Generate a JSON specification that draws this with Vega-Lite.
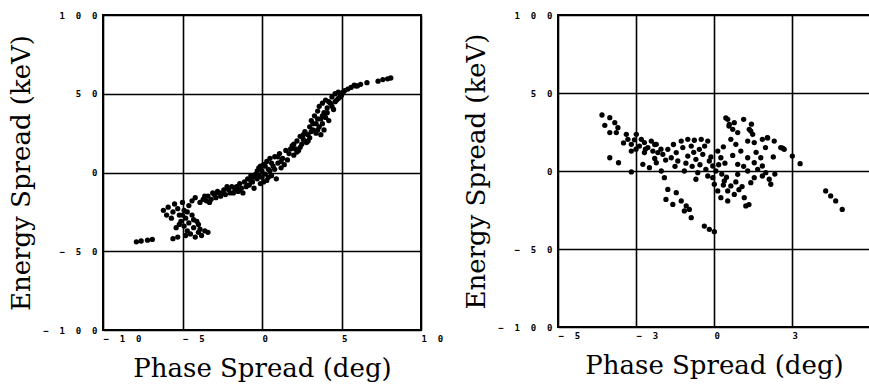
{
  "$schema": "https://vega.github.io/schema/vega-lite/v6.json",
  "background": "white",
  "padding": {"left": 7, "top": 10, "right": 0, "bottom": 0},
  "spacing": 18,
  "datasets": {
    "left": [
      {"p": -7.9, "e": -44}, {"p": -7.6, "e": -43.5}, {"p": -7.2, "e": -43}, {"p": -6.9, "e": -42.5}, {"p": -5.6, "e": -42}, {"p": -5.3, "e": -41},
      {"p": -6.2, "e": -24}, {"p": -6.0, "e": -27}, {"p": -5.9, "e": -22}, {"p": -5.7, "e": -29}, {"p": -5.6, "e": -25}, {"p": -5.5, "e": -20}, {"p": -5.3, "e": -23}, {"p": -5.2, "e": -27}, {"p": -5.1, "e": -31}, {"p": -5.0, "e": -19}, {"p": -4.9, "e": -24}, {"p": -4.9, "e": -34}, {"p": -4.8, "e": -29}, {"p": -4.7, "e": -37}, {"p": -4.6, "e": -21}, {"p": -4.6, "e": -32}, {"p": -4.5, "e": -39}, {"p": -4.4, "e": -27}, {"p": -4.3, "e": -35}, {"p": -4.2, "e": -41}, {"p": -4.1, "e": -31}, {"p": -4.0, "e": -38}, {"p": -3.9, "e": -36}, {"p": -3.8, "e": -40}, {"p": -3.6, "e": -37}, {"p": -3.4, "e": -38}, {"p": -4.8, "e": -40}, {"p": -5.4, "e": -35}, {"p": -4.4, "e": -18}, {"p": -4.2, "e": -16}, {"p": -5.0, "e": -27}, {"p": -4.7, "e": -25}, {"p": -4.3, "e": -30}, {"p": -5.2, "e": -33}, {"p": -4.0, "e": -33},
      {"p": -3.9, "e": -19}, {"p": -3.7, "e": -17}, {"p": -3.5, "e": -18}, {"p": -3.4, "e": -15}, {"p": -3.2, "e": -17}, {"p": -3.0, "e": -14}, {"p": -2.9, "e": -16}, {"p": -2.7, "e": -13}, {"p": -2.6, "e": -15}, {"p": -2.4, "e": -11}, {"p": -2.3, "e": -14}, {"p": -2.1, "e": -11}, {"p": -2.0, "e": -13}, {"p": -1.9, "e": -9}, {"p": -1.8, "e": -13}, {"p": -1.6, "e": -9}, {"p": -1.5, "e": -12}, {"p": -1.4, "e": -7}, {"p": -1.3, "e": -10}, {"p": -1.2, "e": -13}, {"p": -1.1, "e": -6}, {"p": -1.0, "e": -9}, {"p": -0.9, "e": -4}, {"p": -0.8, "e": -8}, {"p": -0.7, "e": -2}, {"p": -0.6, "e": -6}, {"p": -0.5, "e": -10}, {"p": -0.4, "e": -1}, {"p": -0.3, "e": -4}, {"p": -0.2, "e": 3}, {"p": -0.1, "e": -7}, {"p": 0.0, "e": 1}, {"p": 0.0, "e": -3}, {"p": 0.1, "e": 5}, {"p": 0.2, "e": -1}, {"p": 0.3, "e": 7}, {"p": 0.3, "e": -5}, {"p": 0.4, "e": 2}, {"p": 0.5, "e": 9}, {"p": 0.6, "e": -2}, {"p": 0.7, "e": 4}, {"p": 0.8, "e": 10}, {"p": 0.9, "e": -4}, {"p": 1.0, "e": 6}, {"p": 1.1, "e": 12}, {"p": 1.2, "e": 3}, {"p": 1.3, "e": 9}, {"p": 1.5, "e": 14}, {"p": 1.6, "e": 8}, {"p": 1.7, "e": 12}, {"p": 1.9, "e": 17}, {"p": 2.0, "e": 11}, {"p": 2.1, "e": 15}, {"p": 2.2, "e": 20}, {"p": 2.3, "e": 14}, {"p": 2.4, "e": 23}, {"p": 2.5, "e": 18}, {"p": 2.6, "e": 21}, {"p": 2.7, "e": 26}, {"p": 2.8, "e": 19}, {"p": 2.9, "e": 24}, {"p": 3.0, "e": 29}, {"p": 3.0, "e": 22}, {"p": 3.1, "e": 33}, {"p": 3.2, "e": 27}, {"p": 3.3, "e": 36}, {"p": 3.4, "e": 25}, {"p": 3.4, "e": 31}, {"p": 3.5, "e": 39}, {"p": 3.6, "e": 29}, {"p": 3.6, "e": 42}, {"p": 3.7, "e": 34}, {"p": 3.7, "e": 24}, {"p": 3.8, "e": 44}, {"p": 3.8, "e": 31}, {"p": 3.9, "e": 38}, {"p": 3.9, "e": 27}, {"p": 4.0, "e": 46}, {"p": 4.0, "e": 35}, {"p": 4.1, "e": 41}, {"p": 4.2, "e": 33}, {"p": 4.3, "e": 44}, {"p": 4.4, "e": 48}, {"p": 4.5, "e": 40}, {"p": 4.6, "e": 50}, {"p": 4.7, "e": 46}, {"p": 4.8, "e": 51}, {"p": 4.9, "e": 48}, {"p": 5.0, "e": 49}, {"p": 5.2, "e": 52}, {"p": 5.4, "e": 53}, {"p": 5.6, "e": 54}, {"p": 5.9, "e": 55}, {"p": 6.2, "e": 56}, {"p": 6.6, "e": 57}, {"p": 7.3, "e": 58}, {"p": 7.6, "e": 59}, {"p": 7.9, "e": 59.5}, {"p": 8.1, "e": 60},
      {"p": -0.5, "e": -3}, {"p": 0.2, "e": 4}, {"p": 0.6, "e": 6}, {"p": -0.2, "e": -2}, {"p": 0.4, "e": -3}, {"p": 1.4, "e": 5}, {"p": 2.4, "e": 16}, {"p": -1.7, "e": -11}, {"p": -2.8, "e": -12}, {"p": -3.3, "e": -19},
      {"p": -3.6, "e": -15}, {"p": -3.1, "e": -13}, {"p": -2.5, "e": -13}, {"p": -2.2, "e": -9}, {"p": -1.4, "e": -11}, {"p": -0.9, "e": -8}, {"p": -0.7, "e": -5}, {"p": -0.3, "e": 1}, {"p": -0.1, "e": 4}, {"p": 0.1, "e": -6}, {"p": 0.5, "e": 1}, {"p": 0.8, "e": 2}, {"p": 1.0, "e": 10}, {"p": 1.2, "e": 7}, {"p": 1.8, "e": 15}, {"p": 2.0, "e": 18}, {"p": 2.2, "e": 13}, {"p": 2.6, "e": 24}, {"p": 2.9, "e": 20}, {"p": 3.1, "e": 26}, {"p": 3.2, "e": 31}, {"p": 3.5, "e": 34}, {"p": 3.5, "e": 27}, {"p": 3.8, "e": 36}, {"p": 4.1, "e": 38}, {"p": 4.2, "e": 45}, {"p": 4.4, "e": 42}, {"p": 4.6, "e": 45}, {"p": 4.8, "e": 47}, {"p": 5.1, "e": 51}, {"p": 5.8, "e": 55.5}, {"p": 6.0, "e": 55}
    ],
    "right": [
      {"p": -3.59, "e": 35.9}, {"p": -3.34, "e": 34.2}, {"p": -3.5, "e": 29.3}, {"p": -3.18, "e": 31}, {"p": -3.08, "e": 27.8}, {"p": -3.34, "e": 24.6}, {"p": -3.13, "e": 24.6}, {"p": -2.81, "e": 23.5}, {"p": -2.76, "e": 20.3}, {"p": -2.65, "e": 17.1}, {"p": -2.65, "e": 12.8}, {"p": -3.34, "e": 8.5}, {"p": -3.06, "e": 5.3}, {"p": -2.65, "e": -0.6},
      {"p": -2.49, "e": 23.5}, {"p": -2.33, "e": 20.3}, {"p": -2.39, "e": 16}, {"p": -2.23, "e": 18.2}, {"p": -2.12, "e": 15}, {"p": -2.01, "e": 19.2}, {"p": -1.85, "e": 17.1}, {"p": -2.23, "e": 11.8}, {"p": -1.96, "e": 12.8}, {"p": -1.8, "e": 11.8}, {"p": -2.28, "e": 4.3}, {"p": -2.07, "e": 2.1}, {"p": -1.85, "e": 5.3}, {"p": -1.69, "e": 0},
      {"p": -1.59, "e": -4.3}, {"p": -1.48, "e": -11.8}, {"p": -1.21, "e": -13.9}, {"p": -1.54, "e": -18.2}, {"p": -1.32, "e": -21.4}, {"p": -1.05, "e": -19.2}, {"p": -0.89, "e": -22.4}, {"p": -0.95, "e": -25.6}, {"p": -0.73, "e": -29.9}, {"p": -0.79, "e": -24.6}, {"p": -0.31, "e": -35.3}, {"p": -0.15, "e": -37.4}, {"p": 0.01, "e": -38.9},
      {"p": -1.64, "e": 10.7}, {"p": -1.48, "e": 13.9}, {"p": -1.37, "e": 8.5}, {"p": -1.21, "e": 11.8}, {"p": -1.16, "e": 6.4}, {"p": -1.05, "e": 19.2}, {"p": -0.84, "e": 20.3}, {"p": -0.63, "e": 19.7}, {"p": -0.41, "e": 20.3}, {"p": -0.2, "e": 19.2}, {"p": -1.0, "e": 15}, {"p": -0.73, "e": 16}, {"p": -0.47, "e": 13.9}, {"p": -0.84, "e": 9.6}, {"p": -0.58, "e": 7.5}, {"p": -0.36, "e": 10.7}, {"p": -0.95, "e": 0}, {"p": -0.52, "e": -1.1}, {"p": -0.26, "e": 1.1}, {"p": -0.04, "e": 3.2}, {"p": -0.58, "e": -5.3}, {"p": -0.2, "e": -3.2}, {"p": -0.04, "e": -4.3},
      {"p": 0.12, "e": 12.8}, {"p": 0.22, "e": 8.5}, {"p": 0.06, "e": 0}, {"p": -0.15, "e": 6.4}, {"p": 0.01, "e": -8.5}, {"p": 0.12, "e": -12.8}, {"p": 0.33, "e": -6.4}, {"p": 0.44, "e": -12.8}, {"p": 0.22, "e": -17.1}, {"p": 0.54, "e": -9.6}, {"p": 0.65, "e": -15}, {"p": 0.44, "e": -19.2}, {"p": 0.97, "e": -17.1}, {"p": 1.02, "e": -22.4}, {"p": 1.12, "e": -21.5},
      {"p": 0.44, "e": 33.1}, {"p": 0.49, "e": 29.9}, {"p": 0.6, "e": 26.7}, {"p": 0.95, "e": 33.1}, {"p": 0.76, "e": 24.6}, {"p": 0.54, "e": 20.3}, {"p": 0.7, "e": 17.1}, {"p": 1.13, "e": 26.7}, {"p": 1.24, "e": 23.5}, {"p": 1.08, "e": 19.2}, {"p": 1.29, "e": 18.2}, {"p": 1.55, "e": 20.3}, {"p": 1.71, "e": 21.4}, {"p": 1.93, "e": 19.2}, {"p": 2.14, "e": 15}, {"p": 2.25, "e": 13.9},
      {"p": 0.86, "e": 12.8}, {"p": 1.08, "e": 8.5}, {"p": 0.76, "e": 4.3}, {"p": 1.29, "e": 5.3}, {"p": 1.5, "e": 8.5}, {"p": 0.76, "e": -2.1}, {"p": 1.08, "e": 0}, {"p": 1.4, "e": 1.1}, {"p": 1.55, "e": 3.2}, {"p": 1.66, "e": -1.1}, {"p": 1.29, "e": -4.3}, {"p": 1.77, "e": -5.3}, {"p": 1.82, "e": -8.5}, {"p": 1.55, "e": -3.2}, {"p": 1.18, "e": -7.5},
      {"p": 2.51, "e": 9.6}, {"p": 2.76, "e": 4.7}, {"p": 3.58, "e": -12.8}, {"p": 3.74, "e": -16}, {"p": 3.9, "e": -19.2}, {"p": 4.11, "e": -24.6},
      {"p": 0.38, "e": 34}, {"p": 0.48, "e": 28.8}, {"p": 1.18, "e": 25.6}, {"p": 1.72, "e": 21.2}, {"p": 2.2, "e": 14.7}, {"p": 0.3, "e": 15.5}, {"p": 0.35, "e": 5}, {"p": 0.6, "e": 10}, {"p": -0.7, "e": 3}, {"p": -1.3, "e": 17}, {"p": -2.5, "e": 14}, {"p": -1.9, "e": 8}, {"p": 0.9, "e": -10}, {"p": 0.25, "e": -2},
      {"p": -2.9, "e": 18}, {"p": -2.55, "e": 20}, {"p": -2.2, "e": 14}, {"p": -1.7, "e": 14}, {"p": -1.55, "e": 7}, {"p": -1.25, "e": 3}, {"p": -0.9, "e": 5}, {"p": -0.65, "e": 12}, {"p": -0.3, "e": 16}, {"p": -0.1, "e": 9}, {"p": 0.15, "e": 4}, {"p": 0.4, "e": -4}, {"p": 0.7, "e": -7}, {"p": 0.95, "e": 3}, {"p": 1.35, "e": 12}, {"p": 1.65, "e": 15}, {"p": 1.9, "e": 9}, {"p": 1.95, "e": -2}, {"p": 0.8, "e": -12}, {"p": 0.3, "e": -9}, {"p": -0.45, "e": 4}, {"p": -1.9, "e": 17}, {"p": 0.65, "e": 31}, {"p": 1.2, "e": 30}
    ]
  },
  "hconcat": [
    {
      "data": {"name": "left"},
      "width": 318,
      "height": 315,
      "mark": {"type": "point", "filled": true, "shape": "circle", "size": 28, "color": "black", "opacity": 1},
      "encoding": {
        "x": {"field": "p", "type": "quantitative", "scale": {"domain": [-10, 10], "nice": false},
          "axis": {"values": [-10, -5, 0, 5, 10], "title": "Phase Spread (deg)", "labelExpr": "join(split(datum.label, ''), '\u00a0\u00a0')"}},
        "y": {"field": "e", "type": "quantitative", "scale": {"domain": [-100, 100], "nice": false},
          "axis": {"values": [-100, -50, 0, 50, 100], "title": "Energy Spread (keV)", "labelExpr": "join(split(datum.label, ''), '\u00a0\u00a0')"}}
      }
    },
    {
      "data": {"name": "right"},
      "width": 312,
      "height": 312,
      "mark": {"type": "point", "filled": true, "shape": "circle", "size": 28, "color": "black", "opacity": 1},
      "encoding": {
        "x": {"field": "p", "type": "quantitative", "scale": {"domain": [-5, 5], "nice": false},
          "axis": {"values": [-5, -2.5, 0, 2.5, 5], "format": ".0f", "title": "Phase Spread (deg)", "labelExpr": "join(split(datum.label, ''), '\u00a0\u00a0')"}},
        "y": {"field": "e", "type": "quantitative", "scale": {"domain": [-100, 100], "nice": false},
          "axis": {"values": [-100, -50, 0, 50, 100], "title": "Energy Spread (keV)", "labelExpr": "join(split(datum.label, ''), '\u00a0\u00a0')"}}
      }
    }
  ],
  "config": {
    "view": {"stroke": "black", "strokeWidth": 2},
    "axis": {
      "grid": true, "gridColor": "black", "gridWidth": 1.6, "gridOpacity": 1,
      "domain": false, "ticks": false,
      "labelFont": "DejaVu Sans Mono", "labelFontWeight": "bold", "labelFontSize": 9, "labelColor": "black",
      "labelOverlap": false, "labelFlush": false,
      "titleFont": "DejaVu Serif", "titleFontWeight": "normal", "titleFontSize": 26, "titleColor": "black"
    },
    "axisX": {"labelAlign": "left", "labelPadding": 4, "titlePadding": 12},
    "axisY": {"labelPadding": 6, "titlePadding": 8, "labelBaseline": "middle"}
  }
}
